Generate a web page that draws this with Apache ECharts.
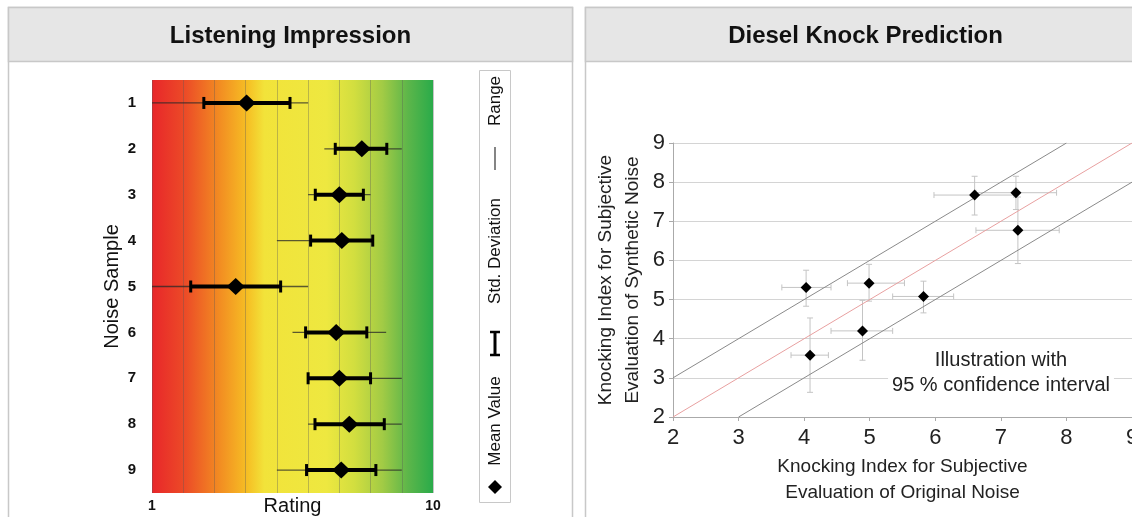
<!DOCTYPE html>
<html>
<head>
<meta charset="utf-8">
<script src="https://cdn.jsdelivr.net/npm/echarts@6/dist/echarts.min.js"></script>
<style>
  html, body { margin: 0; padding: 0; background: #fff; }
  #chart { width: 1132px; height: 517px; }
</style>
</head>
<body>
<div id="chart"></div>
<script>
// left panel: listening impression per noise sample
var samples = ['1', '2', '3', '4', '5', '6', '7', '8', '9'];
var meanValues = [4.03, 7.72, 7.0, 7.08, 3.68, 6.9, 7.0, 7.32, 7.06];
var stdLow = [2.66, 6.87, 6.23, 6.08, 2.24, 5.92, 6.0, 6.22, 5.95];
var stdHigh = [5.42, 8.52, 7.77, 8.07, 5.12, 7.88, 8.0, 8.44, 8.17];
var rangeLow = [1.0, 6.52, 6.0, 5.0, 1.0, 5.5, 6.0, 6.0, 5.0];
var rangeHigh = [6.0, 9.0, 8.0, 8.07, 6.0, 8.5, 9.0, 9.0, 9.0];

// right panel: knock index, original vs synthetic
var originalIdx = [4.03, 4.09, 4.99, 4.89, 5.82, 6.6, 7.23, 7.26];
var syntheticIdx = [5.31, 3.58, 5.42, 4.2, 5.08, 7.67, 7.73, 6.77];
var xErrLow = [3.66, 3.80, 4.66, 4.41, 5.35, 5.98, 6.62, 6.62];
var xErrHigh = [4.41, 4.37, 5.53, 5.35, 6.28, 7.2, 7.85, 7.89];
var yErrLow = [4.83, 2.63, 4.96, 3.45, 4.66, 7.16, 7.3, 5.92];
var yErrHigh = [5.75, 4.53, 5.9, 4.98, 5.47, 8.15, 8.15, 7.62];
var idealLine = [[2, 2], [9, 9]];
var upperLine = [[2, 3], [8, 9]];
var lowerLine = [[3, 2], [9, 8]];

var FONT = '"Liberation Sans", Arial, sans-serif';

var chart = echarts.init(document.getElementById('chart'));

var leftRows = samples.map(function (s, i) {
    return [i, rangeLow[i], rangeHigh[i], stdLow[i], stdHigh[i]];
});
var leftMeans = samples.map(function (s, i) { return [meanValues[i], s]; });

var rightErr = originalIdx.map(function (x, i) {
    return [xErrLow[i], xErrHigh[i], yErrLow[i], yErrHigh[i], x, syntheticIdx[i]];
});
var rightPts = originalIdx.map(function (x, i) { return [x, syntheticIdx[i]]; });

function panel(x, w, title) {
    return [
        { type: 'rect', z: -10, shape: { x: x, y: 7.5, width: w, height: 530 },
          style: { fill: '#fff', stroke: '#c8c8c8', lineWidth: 1.5 } },
        { type: 'rect', z: -9, shape: { x: x, y: 7.5, width: w, height: 54 },
          style: { fill: '#e6e6e6', stroke: '#c8c8c8', lineWidth: 1.5 } },
        { type: 'text', z: -8, style: { text: title, x: x + w / 2, y: 36, align: 'center',
          verticalAlign: 'middle', font: 'bold 24px ' + FONT, fill: '#111' } }
    ];
}

var legendItems = [
    { type: 'rect', shape: { x: 479.5, y: 70.5, width: 31, height: 432 },
      style: { fill: '#fff', stroke: '#c8c8c8', lineWidth: 1 } },
    { type: 'polygon', shape: { points: [[495, 480], [502, 487], [495, 494], [488, 487]] },
      style: { fill: '#000' } },
    { type: 'text', x: 495, y: 421, rotation: Math.PI / 2,
      style: { text: 'Mean Value', align: 'center', verticalAlign: 'middle', font: '17px ' + FONT, fill: '#111' } },
    { type: 'line', shape: { x1: 495, y1: 331, x2: 495, y2: 356 }, style: { stroke: '#000', lineWidth: 3 } },
    { type: 'line', shape: { x1: 490, y1: 332, x2: 500, y2: 332 }, style: { stroke: '#000', lineWidth: 2.5 } },
    { type: 'line', shape: { x1: 490, y1: 355, x2: 500, y2: 355 }, style: { stroke: '#000', lineWidth: 2.5 } },
    { type: 'text', x: 495, y: 251, rotation: Math.PI / 2,
      style: { text: 'Std. Deviation', align: 'center', verticalAlign: 'middle', font: '17px ' + FONT, fill: '#111' } },
    { type: 'line', shape: { x1: 495, y1: 147, x2: 495, y2: 170 }, style: { stroke: '#333', lineWidth: 1.2 } },
    { type: 'text', x: 495, y: 101, rotation: Math.PI / 2,
      style: { text: 'Range', align: 'center', verticalAlign: 'middle', font: '17px ' + FONT, fill: '#111' } }
];

var note = {
    type: 'text', z: 10,
    style: { text: 'Illustration with\n95 % confidence interval', x: 1001, y: 373, align: 'center',
        verticalAlign: 'middle', font: '20px ' + FONT, fill: '#222', lineHeight: 25,
        backgroundColor: '#fff', padding: [0, 4] }
};

var option = {
    backgroundColor: '#fff',
    animation: false,
    textStyle: { fontFamily: FONT },
    graphic: [].concat(panel(8.5, 564, 'Listening Impression'),
                       panel(585.5, 560, 'Diesel Knock Prediction'),
                       legendItems, [note]),
    grid: [
        { left: 152, top: 80, width: 281, height: 413, show: true, borderWidth: 0,
          outerBoundsMode: 'none', containLabel: false,
          backgroundColor: new echarts.graphic.LinearGradient(0, 0, 1, 0, [
              { offset: 0, color: '#e8262a' },
              { offset: 0.12, color: '#ec4c27' },
              { offset: 0.24, color: '#f28c22' },
              { offset: 0.34, color: '#f6bf24' },
              { offset: 0.40, color: '#f2e33a' },
              { offset: 0.62, color: '#eee840' },
              { offset: 0.72, color: '#d2de3f' },
              { offset: 0.82, color: '#a2cb45' },
              { offset: 0.91, color: '#5db64a' },
              { offset: 1, color: '#2aab4a' }
          ]) },
        { left: 673, top: 143, width: 459, height: 274, outerBoundsMode: 'none', containLabel: false }
    ],
    xAxis: [
        { gridIndex: 0, type: 'value', min: 1, max: 10, interval: 1,
          axisLine: { show: false }, axisTick: { show: false },
          splitLine: { show: true, lineStyle: { color: 'rgba(90,90,90,0.35)', width: 1 } },
          axisLabel: { margin: 6, fontSize: 14, fontWeight: 'bold', color: '#111',
              formatter: function (v) { return (v === 1 || v === 10) ? String(v) : ''; } },
          name: 'Rating', nameLocation: 'middle', nameGap: 3, nameMoveOverlap: false,
          nameTextStyle: { fontSize: 20, color: '#111', verticalAlign: 'top' } },
        { gridIndex: 1, type: 'value', min: 2, max: 9, interval: 1,
          axisLine: { show: true, lineStyle: { color: '#aaa' } },
          axisTick: { show: true, length: 4, lineStyle: { color: '#aaa' } },
          splitLine: { show: false },
          axisLabel: { margin: 10, fontSize: 22, color: '#222' },
          name: 'Knocking Index for Subjective\nEvaluation of Original Noise',
          nameLocation: 'middle', nameGap: 36,
          nameTextStyle: { fontSize: 19, color: '#222', lineHeight: 26, verticalAlign: 'top' } }
    ],
    yAxis: [
        { gridIndex: 0, type: 'category', data: samples, inverse: true,
          axisLine: { show: false }, axisTick: { show: false },
          axisLabel: { margin: 16, fontSize: 15, fontWeight: 'bold', color: '#111' },
          name: 'Noise Sample', nameLocation: 'middle', nameGap: 30, nameMoveOverlap: false,
          nameTextStyle: { fontSize: 20, color: '#111' } },
        { gridIndex: 1, type: 'value', min: 2, max: 9, interval: 1,
          axisLine: { show: true, lineStyle: { color: '#aaa' } },
          axisTick: { show: true, length: 4, lineStyle: { color: '#aaa' } },
          splitLine: { show: true, lineStyle: { color: '#d4d4d4' } },
          axisLabel: { margin: 8, fontSize: 22, color: '#222' },
          name: 'Knocking Index for Subjective\nEvaluation of Synthetic Noise',
          nameLocation: 'middle', nameGap: 27,
          nameTextStyle: { fontSize: 19, color: '#222', lineHeight: 27 } }
    ],
    series: [
        {
            type: 'custom', xAxisIndex: 0, yAxisIndex: 0,
            encode: { x: [1, 2, 3, 4], y: 0 },
            data: leftRows,
            renderItem: function (params, api) {
                var cat = api.value(0);
                var r0 = api.coord([api.value(1), cat]);
                var r1 = api.coord([api.value(2), cat]);
                var s0 = api.coord([api.value(3), cat]);
                var s1 = api.coord([api.value(4), cat]);
                var y = r0[1];
                return {
                    type: 'group',
                    children: [
                        { type: 'line', shape: { x1: r0[0], y1: y, x2: r1[0], y2: y },
                          style: { stroke: 'rgba(40,40,40,0.75)', lineWidth: 1.3 } },
                        { type: 'line', shape: { x1: s0[0], y1: y, x2: s1[0], y2: y },
                          style: { stroke: '#000', lineWidth: 4 } },
                        { type: 'line', shape: { x1: s0[0], y1: y - 6, x2: s0[0], y2: y + 6 },
                          style: { stroke: '#000', lineWidth: 3 } },
                        { type: 'line', shape: { x1: s1[0], y1: y - 6, x2: s1[0], y2: y + 6 },
                          style: { stroke: '#000', lineWidth: 3 } }
                    ]
                };
            }
        },
        {
            type: 'scatter', xAxisIndex: 0, yAxisIndex: 0, z: 5,
            symbol: 'diamond', symbolSize: [18, 17],
            itemStyle: { color: '#000', opacity: 1 },
            data: leftMeans
        },
        {
            type: 'line', xAxisIndex: 1, yAxisIndex: 1, data: idealLine,
            symbol: 'none', lineStyle: { color: '#e8a0a0', width: 1 }
        },
        {
            type: 'line', xAxisIndex: 1, yAxisIndex: 1, data: upperLine,
            symbol: 'none', lineStyle: { color: '#8a8a8a', width: 1 }
        },
        {
            type: 'line', xAxisIndex: 1, yAxisIndex: 1, data: lowerLine,
            symbol: 'none', lineStyle: { color: '#8a8a8a', width: 1 }
        },
        {
            type: 'custom', xAxisIndex: 1, yAxisIndex: 1,
            encode: { x: [0, 1, 4], y: [2, 3, 5] },
            data: rightErr,
            renderItem: function (params, api) {
                var px = api.value(4), py = api.value(5);
                var a = api.coord([api.value(0), py]);
                var b = api.coord([api.value(1), py]);
                var c = api.coord([px, api.value(2)]);
                var d = api.coord([px, api.value(3)]);
                var st = { stroke: '#c4c4c4', lineWidth: 1 };
                return {
                    type: 'group',
                    children: [
                        { type: 'line', shape: { x1: a[0], y1: a[1], x2: b[0], y2: b[1] }, style: st },
                        { type: 'line', shape: { x1: a[0], y1: a[1] - 3, x2: a[0], y2: a[1] + 3 }, style: st },
                        { type: 'line', shape: { x1: b[0], y1: b[1] - 3, x2: b[0], y2: b[1] + 3 }, style: st },
                        { type: 'line', shape: { x1: c[0], y1: c[1], x2: d[0], y2: d[1] }, style: st },
                        { type: 'line', shape: { x1: c[0] - 3, y1: c[1], x2: c[0] + 3, y2: c[1] }, style: st },
                        { type: 'line', shape: { x1: d[0] - 3, y1: d[1], x2: d[0] + 3, y2: d[1] }, style: st }
                    ]
                };
            }
        },
        {
            type: 'scatter', xAxisIndex: 1, yAxisIndex: 1, z: 5,
            symbol: 'diamond', symbolSize: [11, 11],
            itemStyle: { color: '#000', opacity: 1 },
            data: rightPts
        }
    ]
};

chart.setOption(option);
</script>
</body>
</html>
